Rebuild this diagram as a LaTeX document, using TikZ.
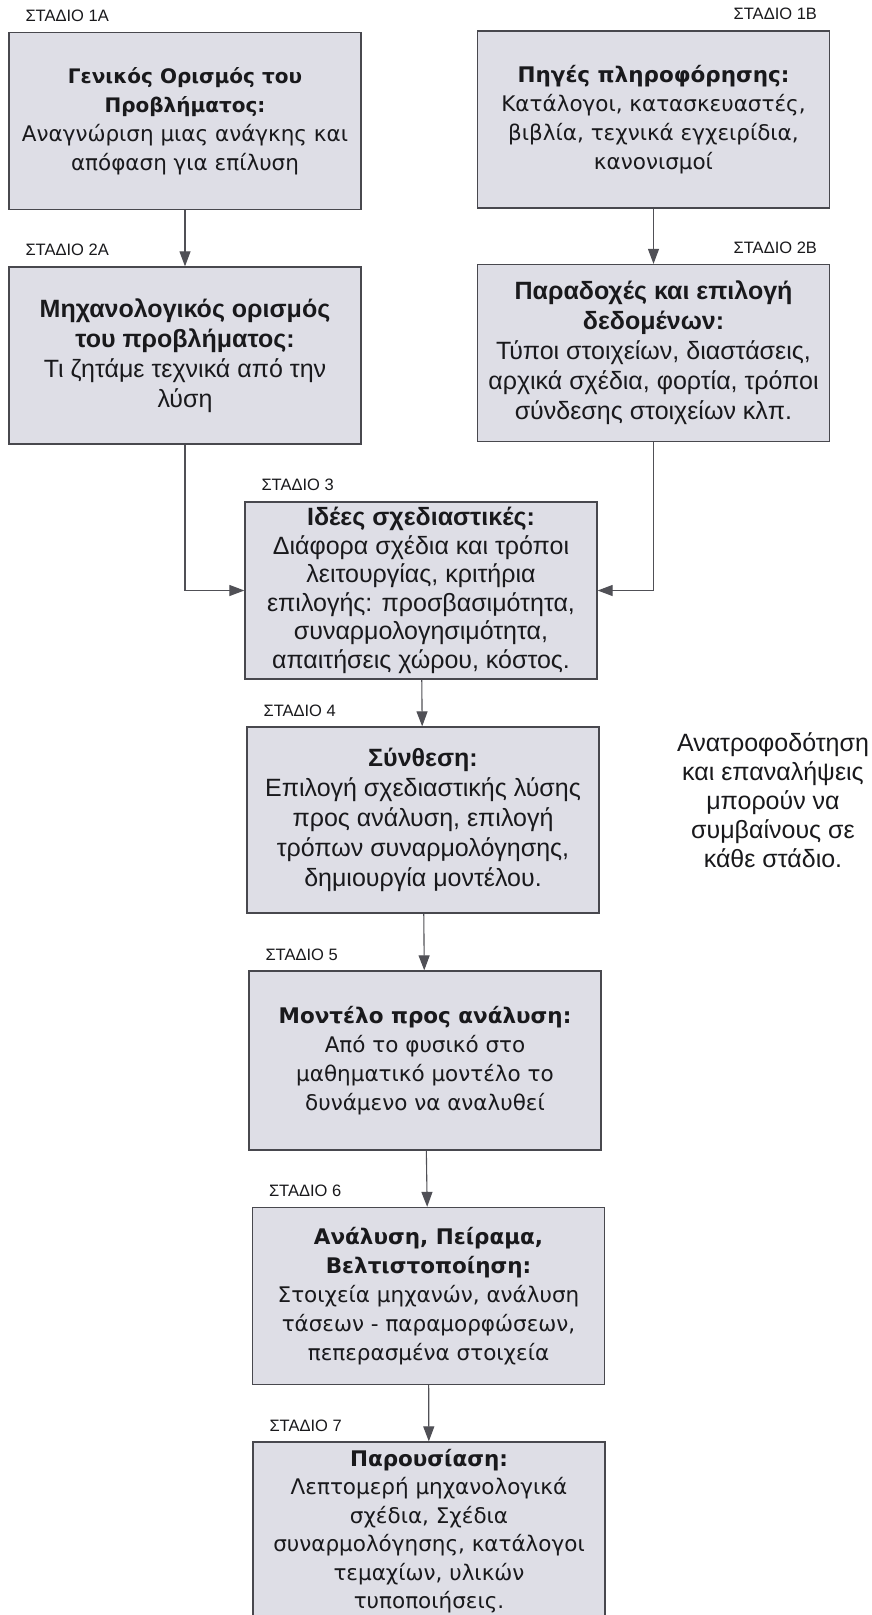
\documentclass[tikz,border=0pt]{standalone}
\usepackage{fontspec}
\setmainfont{Liberation Sans}
\newfontfamily\gothic{DejaVu Sans}
\usetikzlibrary{arrows.meta, positioning}

\definecolor{boxfill}{RGB}{222,222,230}
\definecolor{boxline}{RGB}{72,72,78}
\definecolor{wire}{RGB}{80,80,86}
\definecolor{ink}{RGB}{25,25,28}

\begin{document}
\begin{tikzpicture}[x=1pt, y=-1pt,
    stagebox/.style={draw=boxline, line width=1.3pt, fill=boxfill, text=ink, align=center,
      minimum width=352pt, minimum height=177pt, inner xsep=3pt, inner ysep=0pt, font=\fontsize{25}{30}\selectfont},
    gothicbox/.style={stagebox, font=\gothic\fontsize{21.5}{29}\selectfont},
    stagelabel/.style={inner sep=0pt, text=ink, font=\fontsize{16.5}{18}\selectfont},
    flow/.style={draw=wire, line width=1.1pt, -{Triangle[width=11pt, length=15pt]}}]
      \useasboundingbox (0,0) rectangle (872,1615);
      \clip (0,0) rectangle (872,1615);
      \fill[white] (0,0) rectangle (872,1615);

      % left and right columns
      \node[gothicbox] (s1a) at (185,121) {{\fontsize{20}{29}\selectfont\textbf{Γενικός Ορισμός του}}\\{\fontsize{20}{29}\selectfont\textbf{Προβλήματος:}}\\Αναγνώριση μιας ανάγκης και\\απόφαση για επίλυση};
      \node[gothicbox] (s1b) at (653.5,119.5) {\textbf{Πηγές πληροφόρησης:}\\Κατάλογοι, κατασκευαστές,\\βιβλία, τεχνικά εγχειρίδια,\\κανονισμοί};
      \node[stagebox] (s2a) at (185,355.5) {\textbf{Μηχανολογικός ορισμός}\\\textbf{του προβλήματος:}\\Τι ζητάμε τεχνικά από την\\λύση};
      \node[stagebox] (s2b) at (653.5,353) {\textbf{Παραδοχές και επιλογή}\\\textbf{δεδομένων:}\\Τύποι στοιχείων, διαστάσεις,\\αρχικά σχέδια, φορτία, τρόποι\\σύνδεσης στοιχείων κλπ.};

      % middle column
      \node[stagebox, font=\fontsize{25}{28.5}\selectfont] (s3) at (421,590.5) {\textbf{Ιδέες σχεδιαστικές:}\\Διάφορα σχέδια και τρόποι\\λειτουργίας, κριτήρια\\επιλογής: προσβασιμότητα,\\συναρμολογησιμότητα,\\απαιτήσεις χώρου, κόστος.};
      \node[stagebox, minimum height=186pt] (s4) at (423,820) {\textbf{Σύνθεση:}\\Επιλογή σχεδιαστικής λύσης\\προς ανάλυση, επιλογή\\τρόπων συναρμολόγησης,\\δημιουργία μοντέλου.};
      \node[gothicbox, minimum height=179pt] (s5) at (425,1060.5) {\textbf{Μοντέλο προς ανάλυση:}\\Από το φυσικό στο\\μαθηματικό μοντέλο το\\δυνάμενο να αναλυθεί};
      \node[gothicbox] (s6) at (428.5,1296) {\textbf{Ανάλυση, Πείραμα,}\\\textbf{Βελτιστοποίηση:}\\Στοιχεία μηχανών, ανάλυση\\τάσεων - παραμορφώσεων,\\πεπερασμένα στοιχεία};
      \node[gothicbox, minimum height=178pt, font=\gothic\fontsize{21.5}{28.5}\selectfont] (s7) at (429,1531) {\textbf{Παρουσίαση:}\\Λεπτομερή μηχανολογικά\\σχέδια, Σχέδια\\συναρμολόγησης, κατάλογοι\\τεμαχίων, υλικών\\τυποποιήσεις.};

      \node[align=center, text=ink, font=\fontsize{25}{29}\selectfont] (note) at (773,800) {Ανατροφοδότηση\\και επαναλήψεις\\μπορούν να\\συμβαίνους σε\\κάθε στάδιο.};

      % stage labels
      \node[stagelabel, above right=10pt and 17pt of s1a.north west] (l1a) {ΣΤΑΔΙΟ 1A};
      \node[stagelabel, above left=10pt and 13pt of s1b.north east] (l1b) {ΣΤΑΔΙΟ 1B};
      \node[stagelabel, above right=10pt and 17pt of s2a.north west] (l2a) {ΣΤΑΔΙΟ 2A};
      \node[stagelabel, above left=10pt and 13pt of s2b.north east] (l2b) {ΣΤΑΔΙΟ 2B};
      \node[stagelabel, above right=10pt and 17pt of s3.north west] (l3) {ΣΤΑΔΙΟ 3};
      \node[stagelabel, above right=10pt and 17pt of s4.north west] (l4) {ΣΤΑΔΙΟ 4};
      \node[stagelabel, above right=10pt and 17pt of s5.north west] (l5) {ΣΤΑΔΙΟ 5};
      \node[stagelabel, above right=10pt and 17pt of s6.north west] (l6) {ΣΤΑΔΙΟ 6};
      \node[stagelabel, above right=10pt and 17pt of s7.north west] (l7) {ΣΤΑΔΙΟ 7};

      \draw[flow] (s1a) -- (s2a);
      \draw[flow] (s1b) -- (s2b);
      \draw[flow] (s2a.south) |- (s3.west);
      \draw[flow] (s2b.south) |- (s3.east);
      \draw[flow] (s3) -- (s4);
      \draw[flow] (s4) -- (s5);
      \draw[flow] (s5) -- (s6);
      \draw[flow] (s6) -- (s7);
    \end{tikzpicture}
\end{document}
